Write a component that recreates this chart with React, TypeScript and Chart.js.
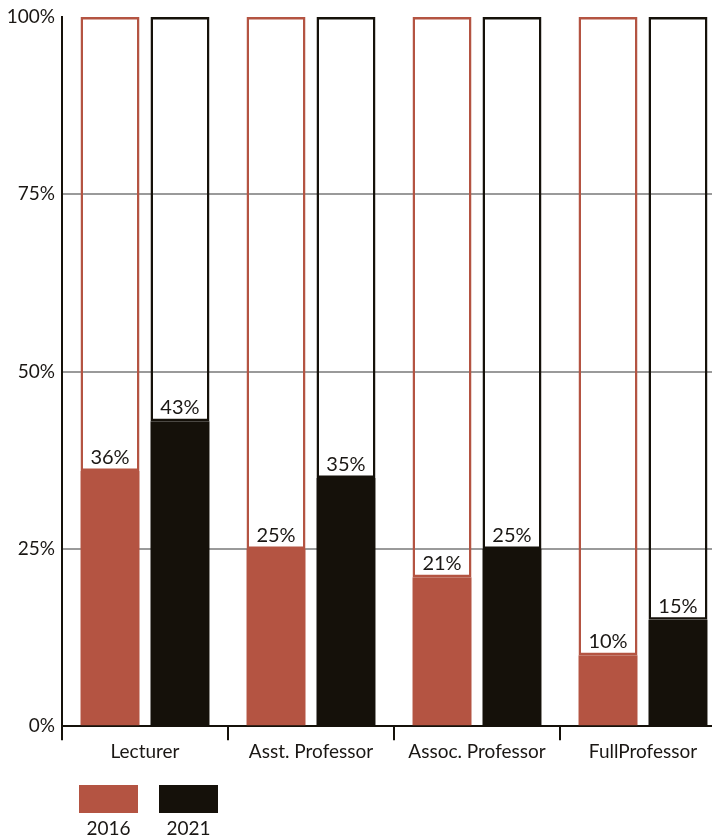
import React, { useEffect, useRef } from "react";
import { Chart, registerables } from "chart.js";

Chart.register(...registerables);

const categories = ["Lecturer", "Asst. Professor", "Assoc. Professor", "FullProfessor"];
const seriesLabels = ["2016", "2021"];
const values2016 = [36, 25, 21, 10];
const values2021 = [43, 35, 25, 15];
const yMax = 100;
const yStep = 25;

const RED = "#b45442";
const BLACK = "#15110a";
const TEXT = "#1a1714";
const FONT = "Lato";

const valueLabels = {
  id: "valueLabels",
  afterDatasetsDraw(chart: any) {
    const ctx = chart.ctx;
    ctx.save();
    ctx.font = `20px ${FONT}`;
    ctx.fillStyle = TEXT;
    ctx.textAlign = "center";
    ctx.textBaseline = "alphabetic";
    chart.data.datasets.forEach((ds: any, di: number) => {
      if (!ds.isValue) return;
      const meta = chart.getDatasetMeta(di);
      meta.data.forEach((el: any, i: number) => {
        ctx.fillText(`${ds.data[i]}%`, el.x, el.y - 7);
      });
    });
    ctx.restore();
  },
};

const bottomLegend = {
  id: "bottomLegend",
  afterDraw(chart: any) {
    const ctx = chart.ctx;
    const left = chart.chartArea.left + 17;
    const top = 785;
    const w = 59;
    const h = 28;
    const gap = 21;
    ctx.save();
    ctx.font = `19px ${FONT}`;
    ctx.textAlign = "center";
    ctx.textBaseline = "middle";
    const valueSets = chart.data.datasets.filter((d: any) => d.isValue);
    valueSets.forEach((ds: any, i: number) => {
      const x = left + i * (w + gap);
      ctx.fillStyle = ds.backgroundColor;
      ctx.fillRect(x, top, w, h);
      ctx.fillStyle = TEXT;
      ctx.fillText(ds.label, x + w / 2, top + h + 16);
    });
    ctx.restore();
  },
};

export default function App() {
  const ref = useRef<HTMLCanvasElement>(null);
  useEffect(() => {
    document.body.style.margin = "0";
    const colors = [RED, BLACK];
    const series = [values2016, values2021];
    const datasets: any[] = [];
    series.forEach((vals, i) => {
      datasets.push({
        label: seriesLabels[i],
        isValue: true,
        data: vals,
        stack: "s" + i,
        backgroundColor: colors[i],
        borderWidth: 0,
      });
      datasets.push({
        label: seriesLabels[i] + " rest",
        isValue: false,
        data: vals.map((v) => yMax - v),
        stack: "s" + i,
        backgroundColor: "rgba(255,255,255,0)",
        borderColor: colors[i],
        borderWidth: 2.5,
        borderSkipped: false,
      });
    });
    const chart = new Chart(ref.current!, {
      type: "bar",
      data: { labels: categories, datasets },
      options: {
        responsive: false,
        animation: false,
        barPercentage: 0.843,
        categoryPercentage: 0.843,
        layout: { padding: { top: 17, right: 4, bottom: 75, left: 0 } },
        plugins: { legend: { display: false }, tooltip: { enabled: false } },
        scales: {
          x: {
            border: { color: BLACK, width: 2 },
            grid: {
              offset: true,
              drawOnChartArea: false,
              drawTicks: true,
              tickLength: 14,
              color: BLACK,
              lineWidth: 2,
            },
            ticks: { color: TEXT, font: { family: FONT, size: 19 }, padding: 0 },
          },
          y: {
            stacked: true,
            min: 0,
            max: yMax,
            afterFit(scale: any) {
              scale.width = 62;
              scale.paddingTop = 0;
              scale.paddingBottom = 0;
            },
            border: { color: BLACK, width: 2 },
            grid: {
              drawTicks: false,
              lineWidth: 2,
              color: (c: any) =>
                c.tick && (c.tick.value === 0 || c.tick.value === yMax) ? "rgba(0,0,0,0)" : "#9a9a9a",
            },
            ticks: {
              stepSize: yStep,
              padding: 7,
              color: TEXT,
              font: { family: FONT, size: 19 },
              callback: (v: any) => `${v}%`,
            },
          },
        },
      },
      plugins: [valueLabels, bottomLegend],
    });
    return () => chart.destroy();
  }, []);
  return (
    <div style={{ width: 712, height: 838, overflow: "hidden", position: "absolute", left: 0, top: 0, background: "#fff" }}>
      <canvas ref={ref} width={730} height={838} />
    </div>
  );
}
